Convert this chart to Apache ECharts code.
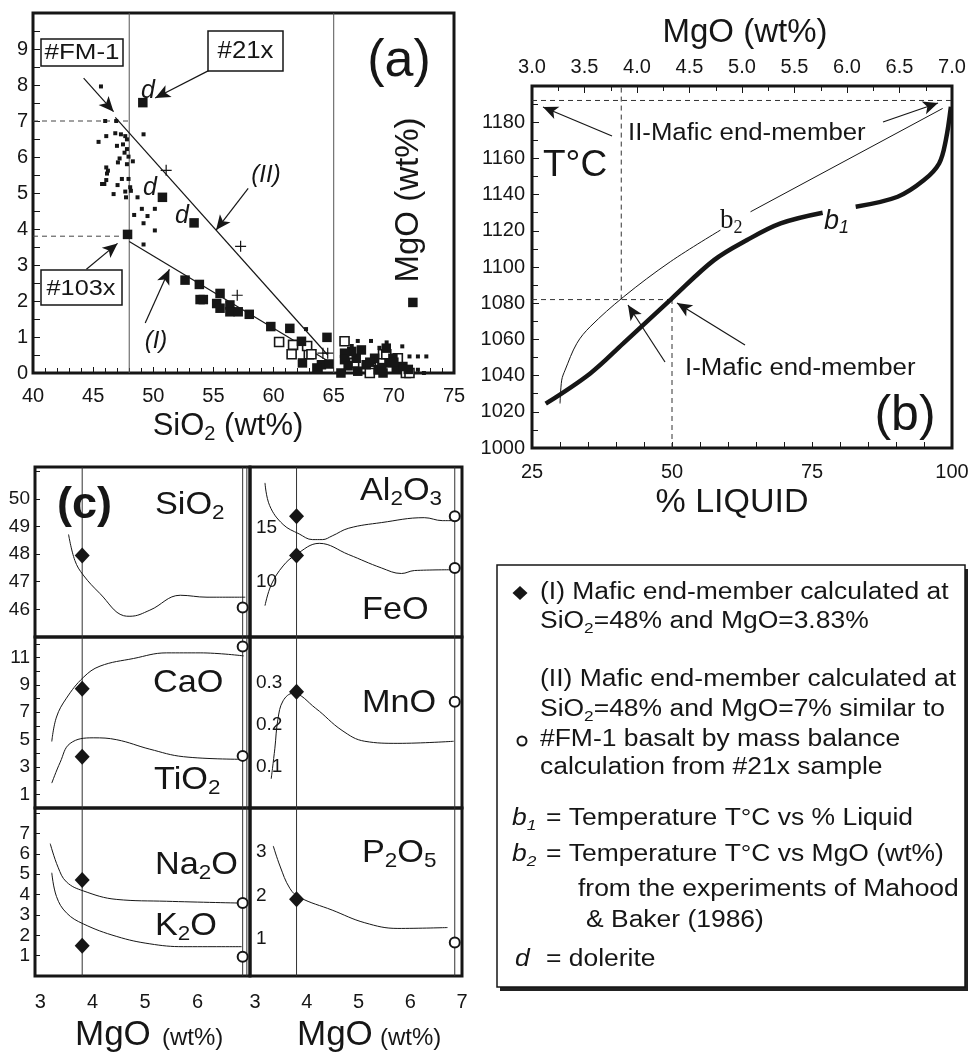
<!DOCTYPE html>
<html><head><meta charset="utf-8">
<script src="https://cdn.jsdelivr.net/npm/echarts@6/dist/echarts.min.js"></script>
<style>html,body{margin:0;padding:0;background:#fff}#c{width:974px;height:1052px}</style>
</head><body><div id="c"></div>
<script>
const FONT = '"Liberation Sans", Arial, Helvetica, sans-serif';
const SERIF = '"Liberation Serif", "Times New Roman", serif';
const INK = '#161616';

// ---------------- Panel (a): MgO vs SiO2 ----------------
const aXTicks = [40, 45, 50, 55, 60, 65, 70, 75];
const aYTicks = [0, 1, 2, 3, 4, 5, 6, 7, 8, 9];
const aSmallDots = [[45.65,7.96],[46.0,7.0],[46.92,7.0],[46.09,6.58],[45.45,6.42],[46.84,6.66],[47.31,6.63],[47.67,6.58],[47.81,6.49],[46.98,6.31],[47.48,6.35],[47.81,6.22],[47.61,6.12],[47.2,5.96],[47.94,6.01],[48.3,5.88],[47.06,5.85],[47.81,5.8],[46.09,5.71],[46.23,5.62],[46.15,5.54],[47.39,5.39],[47.94,5.39],[46.09,5.36],[45.93,5.25],[45.74,5.25],[47.03,5.22],[48.08,5.16],[48.14,5.06],[46.7,4.97],[47.67,5.04],[47.73,4.88],[48.69,4.88],[49.05,4.56],[48.41,4.39],[49.52,4.36],[50.13,4.56],[49.19,4.16],[50.13,3.96],[49.19,6.63],[49.19,3.57],[62.7,1.22],[67.0,0.89],[68.1,0.89],[70.7,0.74],[71.3,0.46],[72.0,0.46],[72.7,0.46],[72.5,0.0],[72.0,0.09],[69.4,0.85],[66.5,0.75],[68.8,0.7]];
const aBigSquares = [[49.13,7.51],[50.76,4.88],[53.39,4.17],[47.86,3.85],[52.64,2.58],[53.83,2.46],[53.89,2.04],[54.16,2.04],[55.55,2.21],[55.27,1.93],[55.55,1.8],[56.37,1.89],[56.37,1.7],[57.06,1.7],[57.98,1.63],[59.77,1.29],[61.35,1.24],[62.32,0.88],[62.4,0.28],[63.7,0.12],[64.44,0.99],[63.98,0.23],[64.6,0.25],[65.6,0.0],[65.9,0.55],[65.9,0.37],[66.87,0.41],[67.3,0.64],[67.7,0.23],[68.4,0.41],[68.7,0.09],[69.37,0.69],[69.59,0.28],[69.92,0.41],[70.2,0.14],[70.75,0.18],[69.1,0.0],[63.6,0.14],[66.2,0.2],[67.0,0.05],[68.0,0.3],[69.0,0.15],[70.0,0.3],[66.5,0.6],[71.2,0.1],[71.58,1.96]];
const aOpenSquares = [[60.46,0.86],[61.62,0.78],[61.5,0.52],[62.93,0.52],[62.79,0.75],[63.15,0.52],[65.9,0.88],[66.7,0.28],[68.1,0.14],[69.1,0.52],[70.33,0.41],[71.0,0.0],[68.0,0.0],[71.3,0.0],[69.37,0.52]];
const aPlus = [[51.07,5.63],[57.26,3.52],[56.98,2.16],[64.5,0.55],[64.1,0.55]];
const aTrendI = [[48.0,3.65],[64.8,0.28]];
const aTrendII = [[46.84,7.1],[64.5,0.5]];
const aVertLines = [48, 65];
const aGuideMgO = [7.0, 3.8];
const aArrows = [
  [[44.21,8.19],[46.70,7.26]],
  [[54.72,8.42],[50.16,7.64]],
  [[57.89,5.13],[55.22,3.97]],
  [[44.44,2.88],[47.03,3.60]],
  [[49.33,1.39],[51.34,2.88]]
];

// ---------------- Panel (b): T vs % liquid / MgO ----------------
const bLiqTicks = [25, 50, 75, 100];
const bMgoTicks = [3.0, 3.5, 4.0, 4.5, 5.0, 5.5, 6.0, 6.5, 7.0];
const bTempTicks = [1000,1020,1040,1060,1080,1100,1120,1140,1160,1180];
const b1Low = [[27.45,1024.5],[35.4,1041.2],[41.3,1057.8],[50.0,1082.7],[57.5,1103.8],[63.4,1114.9],[69.4,1124.1],[76.9,1130.0]];
const b1High = [[82.8,1133.3],[90.3,1138.8],[95.0,1148.0],[97.7,1157.2],[98.9,1170.1],[99.8,1188.5]];
const b2Low = [[3.267,1024.6],[3.283,1037.5],[3.315,1043.0],[3.427,1057.8],[3.554,1067.0],[3.872,1083.5],[4.317,1102.9],[4.795,1120.4]];
const b2High = [[5.081,1130.5],[6.911,1187.6]];
const bGuideT = [1192, 1082];
const bGuideLiq = 50;
const bGuideMgO = 3.85;
const bArrows = [
  [[39.29,1172.4],[26.96,1188.4]],
  [[87.68,1180.1],[97.5,1190.6]],
  [[48.75,1047.5],[42.14,1079.0]],
  [[63.04,1056.9],[50.89,1080.1]]
];

// ---------------- Panel (c): oxides vs MgO ----------------
const cMgoTicks = [3, 4, 5, 6, 7];
const cSiO2 = [[3.54,48.71],[3.66,47.77],[3.82,47.24],[4.14,46.57],[4.59,45.77],[4.71,45.75],[5.09,45.97],[5.67,46.51],[6.18,46.44],[6.91,46.44]];
const cAl2O3 = [[3.19,19.05],[3.28,16.98],[3.54,15.26],[3.85,14.4],[4.11,13.88],[4.30,13.88],[4.49,14.22],[4.81,14.92],[5.44,15.43],[6.27,15.88],[6.62,15.61],[6.81,15.61]];
const cFeO = [[3.19,7.86],[3.31,9.75],[3.54,11.48],[3.79,12.51],[4.24,13.54],[4.81,12.51],[5.44,11.3],[5.83,10.79],[6.08,11.06],[6.81,11.13]];
const cCaO = [[3.22,4.86],[3.31,6.65],[3.50,8.03],[3.82,9.54],[4.14,10.37],[4.78,10.93],[5.41,11.34],[6.05,11.34],[6.88,11.12]];
const cTiO2 = [[3.22,1.82],[3.38,3.34],[3.57,4.72],[4.01,5.13],[4.46,4.99],[5.09,4.3],[5.73,3.75],[6.88,3.56]];
const cMnO = [[3.31,0.07],[3.38,0.142],[3.44,0.213],[3.54,0.257],[3.73,0.275],[4.17,0.239],[4.68,0.186],[5.12,0.16],[5.76,0.155],[6.84,0.16]];
const cNa2O = [[3.19,6.5],[3.34,5.34],[3.50,4.62],[3.82,4.18],[4.46,3.76],[5.41,3.67],[6.84,3.58]];
const cK2O = [[3.22,5.07],[3.31,3.9],[3.50,3.1],[3.82,2.56],[4.46,1.94],[5.09,1.58],[5.73,1.44],[6.84,1.44]];
const cP2O5 = [[3.35,3.13],[3.48,2.67],[3.67,2.16],[3.86,1.95],[4.49,1.66],[5.12,1.37],[5.76,1.24],[6.72,1.26]];
const cMgoI = 3.8;          // mafic end-member (I)
const cMgoII = 6.86;        // mafic end-member (II)
const cEndI = {SiO2:47.95, Al2O3:16.02, FeO:12.44, CaO:8.72, TiO2:3.75, MnO:0.279, Na2O:4.71, K2O:1.48, P2O5:1.91};
const cEndII = {SiO2:46.07, Al2O3:16.02, FeO:11.3, CaO:11.81, TiO2:3.81, MnO:0.255, Na2O:3.58, K2O:0.95, P2O5:0.92};
const cVertLeftExtra = 6.94;

// ---------------- helpers ----------------
function richText(str, size, o) {
  o = o || {};
  const fam = o.family || FONT;
  const fs = o.italic ? 'italic' : 'normal';
  const fw = o.bold ? 'bold' : 'normal';
  let out = '';
  const re = /_\{([^}]*)\}|_(.)/g;
  let last = 0, m;
  while ((m = re.exec(str))) {
    if (m.index > last) out += '{n|' + str.slice(last, m.index) + '}';
    out += '{s|' + (m[1] !== undefined ? m[1] : m[2]) + '}';
    last = re.lastIndex;
  }
  if (last < str.length) out += '{n|' + str.slice(last) + '}';
  return {text: out, rich: {
    n: {fontSize: size, lineHeight: Math.round(size * 1.2), fontFamily: fam, fontStyle: fs, fontWeight: fw, fill: INK},
    s: {fontSize: Math.round(size * 0.66), lineHeight: Math.round(size * 0.42), verticalAlign: 'bottom', fontFamily: fam, fontStyle: fs, fontWeight: fw, fill: INK}
  }};
}
function txt(x, y, str, size, o) {
  o = o || {};
  const r = richText(str, size, o);
  return {type: 'text', x: x, y: y, rotation: o.rot || 0, scaleX: o.sx || 1, z: 100, silent: true,
    style: {text: r.text, rich: r.rich, align: o.align || 'left', verticalAlign: 'middle', fill: INK}};
}
function box(x, y, w, h) {
  return {type: 'rect', z: 90, silent: true, shape: {x: x, y: y, width: w, height: h},
    style: {fill: '#fff', stroke: INK, lineWidth: 1.5}};
}
function lineS(data, xi, yi, o) {
  o = o || {};
  const s = {type: 'line', xAxisIndex: xi, yAxisIndex: yi, data: data, symbol: 'none', silent: true,
    smooth: o.smooth || false, z: o.z || 3,
    lineStyle: {color: o.color || INK, width: o.width || 1, opacity: 1, type: o.dash ? [5, 4] : 'solid'}};
  if (o.arrows) {
    s.markLine = {silent: true, symbol: ['none', 'arrow'], symbolSize: [10, 15], label: {show: false},
      lineStyle: {color: INK, width: 1.2, opacity: 1, type: 'solid'}, animation: false,
      data: o.arrows.map(a => [{coord: a[0]}, {coord: a[1]}])};
  }
  return s;
}
function scatS(data, xi, yi, symbol, size, style, z) {
  return {type: 'scatter', xAxisIndex: xi, yAxisIndex: yi, data: data, symbol: symbol, symbolSize: size,
    silent: true, itemStyle: Object.assign({opacity: 1}, style), z: z || 5};
}
function showOnly(list, digits) {
  return function (v) {
    for (const t of list) if (Math.abs(v - t) < 1e-6) return digits ? t.toFixed(digits) : String(t);
    return '';
  };
}
function axis(o) {
  const a = {type: 'value', splitLine: {show: false}, axisLine: {show: false},
    axisTick: {show: false}, minorTick: {show: false},
    axisLabel: {color: INK, fontFamily: FONT, fontSize: 19, margin: 8}};
  for (const k in o) {
    if (o[k] && typeof o[k] === 'object' && !Array.isArray(o[k]) && a[k]) Object.assign(a[k], o[k]);
    else a[k] = o[k];
  }
  return a;
}

// ---------------- grids ----------------
const gridBase = {show: true, borderColor: INK, borderWidth: 3, containLabel: false};
const grids = [
  {left: 33, top: 13, width: 421, height: 360},   // a
  {left: 532, top: 86, width: 420, height: 362},  // b
  {left: 35, top: 467, width: 215, height: 170},  // c SiO2
  {left: 250, top: 467, width: 212, height: 170}, // c Al2O3/FeO
  {left: 35, top: 637, width: 215, height: 171},  // c CaO/TiO2
  {left: 250, top: 637, width: 212, height: 171}, // c MnO
  {left: 35, top: 808, width: 215, height: 168},  // c Na2O/K2O
  {left: 250, top: 808, width: 212, height: 168}  // c P2O5
].map(g => Object.assign({}, gridBase, g));

const tickIn = (len) => ({show: true, inside: true, length: len, lineStyle: {color: INK, width: 1}});
const xAxes = [
  axis({gridIndex: 0, min: 40, max: 75, interval: 5, axisTick: tickIn(6),
        minorTick: {show: true, splitNumber: 5, length: 5, lineStyle: {color: INK, width: 1}},
        axisLabel: {fontSize: 20, margin: 13, formatter: showOnly(aXTicks)}}),
  axis({gridIndex: 1, min: 25, max: 100, interval: 25, position: 'bottom', axisTick: tickIn(6),
        minorTick: {show: true, splitNumber: 5, length: 6, lineStyle: {color: INK, width: 1}},
        axisLabel: {fontSize: 20, margin: 14, formatter: showOnly(bLiqTicks)}}),
  axis({gridIndex: 1, min: 3, max: 7, interval: 0.5, position: 'top', axisTick: tickIn(7),
        minorTick: {show: true, splitNumber: 2, length: 5, lineStyle: {color: INK, width: 1}},
        axisLabel: {fontSize: 20, margin: 9, formatter: showOnly(bMgoTicks, 1)}})
];
for (let g = 2; g <= 7; g++) {
  const bottom = g >= 6;
  const left = g % 2 === 0;
  xAxes.push(axis({gridIndex: g, min: 2.9, max: 7.0, interval: 0.1,
    axisLabel: {show: bottom, fontSize: 20, margin: 16,
      formatter: showOnly(left ? cMgoTicks.filter(t => t < 7) : cMgoTicks)}}));
}
const yAxes = [
  axis({gridIndex: 0, min: 0, max: 10, interval: 1, axisTick: tickIn(7),
        minorTick: {show: true, splitNumber: 2, length: 7, lineStyle: {color: INK, width: 1}},
        axisLabel: {fontSize: 20, margin: 5, formatter: showOnly(aYTicks)}}),
  axis({gridIndex: 1, min: 1000, max: 1200, interval: 20, axisTick: tickIn(7),
        minorTick: {show: true, splitNumber: 2, length: 6, lineStyle: {color: INK, width: 1}},
        axisLabel: {fontSize: 20, margin: 7, formatter: showOnly(bTempTicks)}}),
  axis({gridIndex: 2, min: 45, max: 51.15, interval: 1, axisTick: tickIn(5), axisLabel: {fontSize: 19, margin: 5, formatter: showOnly([46,47,48,49,50])}}),
  axis({gridIndex: 3, min: 5, max: 20.5, interval: 5, axisLabel: {fontSize: 19, inside: true, margin: 6, formatter: showOnly([10,15])}}),
  axis({gridIndex: 4, min: 0, max: 12.5, interval: 1, axisTick: tickIn(5), axisLabel: {fontSize: 19, margin: 5, formatter: showOnly([1,3,5,7,9,11])}}),
  axis({gridIndex: 5, min: 0, max: 0.41, interval: 0.1, axisLabel: {fontSize: 19, inside: true, margin: 6, formatter: showOnly([0.1,0.2,0.3], 1)}}),
  axis({gridIndex: 6, min: 0, max: 8.25, interval: 1, axisTick: tickIn(5), axisLabel: {fontSize: 19, margin: 5, formatter: showOnly([1,2,3,4,5,6,7])}}),
  axis({gridIndex: 7, min: 0.15, max: 4.0, interval: 0.05, axisLabel: {fontSize: 19, inside: true, margin: 6, formatter: showOnly([1,2,3])}})
];

// ---------------- series ----------------
const series = [];
// panel a
aVertLines.forEach(v => series.push(lineS([[v, 0], [v, 10]], 0, 0, {color: '#555', width: 1})));
aGuideMgO.forEach(g => series.push(lineS([[40, g], [48, g]], 0, 0, {color: '#444', dash: true})));
series.push(lineS(aTrendII, 0, 0, {width: 1.2}));
series.push(lineS(aTrendI, 0, 0, {width: 1.2, arrows: aArrows}));
series.push(scatS(aOpenSquares, 0, 0, 'rect', 9, {color: '#fff', borderColor: INK, borderWidth: 1.6}, 4));
series.push(scatS(aBigSquares, 0, 0, 'rect', 9.5, {color: INK}, 5));
series.push(scatS(aSmallDots, 0, 0, 'rect', 4, {color: INK}, 6));
series.push(scatS(aPlus, 0, 0, 'path://M4.45,0H5.55V10H4.45ZM0,4.45H10V5.55H0Z', 11, {color: INK}, 6));

// panel b
series.push(lineS([[25, bGuideT[0]], [100, bGuideT[0]]], 1, 1, {color: '#333', dash: true}));
series.push(lineS([[25, bGuideT[1]], [bGuideLiq, bGuideT[1]]], 1, 1, {color: '#333', dash: true}));
series.push(lineS([[bGuideLiq, 1000], [bGuideLiq, bGuideT[1]]], 1, 1, {color: '#333', dash: true}));
series.push(lineS([[bGuideMgO, bGuideT[1]], [bGuideMgO, 1200]], 2, 1, {color: '#333', dash: true}));
series.push(lineS(b1Low, 1, 1, {width: 4.5, smooth: 0.35, arrows: bArrows}));
series.push(lineS(b1High, 1, 1, {width: 4.5, smooth: 0.35}));
series.push(lineS(b2Low, 2, 1, {width: 1, smooth: 0.35}));
series.push(lineS(b2High, 2, 1, {width: 1}));

// panel c
const cPanels = [
  {g: 2, curves: [cSiO2], keys: ['SiO2']},
  {g: 3, curves: [cAl2O3, cFeO], keys: ['Al2O3', 'FeO']},
  {g: 4, curves: [cCaO, cTiO2], keys: ['CaO', 'TiO2']},
  {g: 5, curves: [cMnO], keys: ['MnO']},
  {g: 6, curves: [cNa2O, cK2O], keys: ['Na2O', 'K2O']},
  {g: 7, curves: [cP2O5], keys: ['P2O5']}
];
cPanels.forEach(p => {
  const ax = yAxes[p.g];
  const xi = p.g + 1, yi = p.g;
  const verts = [cMgoI, cMgoII];
  if (p.g % 2 === 0) verts.push(cVertLeftExtra);
  verts.forEach(v => series.push(lineS([[v, ax.min], [v, ax.max]], xi, yi, {color: '#333', width: 1})));
  p.curves.forEach(c => series.push(lineS(c, xi, yi, {width: 1, smooth: 0.4})));
  series.push(scatS(p.keys.map(k => [cMgoI, cEndI[k]]), xi, yi, 'diamond', [15, 16], {color: INK}, 7));
  series.push(scatS(p.keys.map(k => [cMgoII, cEndII[k]]), xi, yi, 'circle', 10, {color: '#fff', borderColor: INK, borderWidth: 2}, 7));
});

// ---------------- graphic (annotations) ----------------
const G = [];
// panel a
G.push(box(41, 39, 82, 27), box(208, 31, 75, 40), box(41, 270, 81, 35));
G.push(txt(82, 53, '#FM-1', 22, {align: 'center', sx: 1.18}));
G.push(txt(245.5, 51.5, '#21x', 23, {align: 'center', sx: 1.12}));
G.push(txt(81, 289, '#103x', 22, {align: 'center', sx: 1.15}));
G.push(txt(399, 62, '(a)', 52, {align: 'center'}));
G.push(txt(409, 200, 'MgO (wt%)', 33, {align: 'center', rot: Math.PI / 2}));
G.push(txt(228, 426, 'SiO_2 (wt%)', 31, {align: 'center'}));
G.push(txt(266, 175, '(II)', 24, {align: 'center', italic: true}));
G.push(txt(156, 341, '(I)', 24, {align: 'center', italic: true}));
G.push(txt(148, 91, 'd', 25, {align: 'center', italic: true}));
G.push(txt(150, 188, 'd', 25, {align: 'center', italic: true}));
G.push(txt(182, 216, 'd', 25, {align: 'center', italic: true}));
// panel b
G.push(txt(745, 33, 'MgO (wt%)', 33, {align: 'center'}));
G.push(txt(732, 503, '% LIQUID', 34, {align: 'center'}));
G.push(txt(543, 166, 'T°C', 37));
G.push(txt(628, 134, 'II-Mafic end-member', 23, {sx: 1.12}));
G.push(txt(685, 369, 'I-Mafic end-member', 23, {sx: 1.12}));
G.push(txt(905, 416, '(b)', 50, {align: 'center'}));
G.push(txt(720, 221, 'b_2', 27, {family: SERIF}));
G.push(txt(824, 221, 'b_1', 27, {italic: true}));
// panel c
G.push(txt(57, 506, '(c)', 45, {bold: true}));
const cLab = 32, cSx = 1.07;
G.push(txt(155, 505, 'SiO_2', cLab, {sx: cSx}));
G.push(txt(360, 491, 'Al_2O_3', cLab, {sx: cSx}));
G.push(txt(362, 610, 'FeO', cLab, {sx: cSx}));
G.push(txt(153, 683, 'CaO', cLab, {sx: cSx}));
G.push(txt(154, 780, 'TiO_2', cLab, {sx: cSx}));
G.push(txt(362, 703, 'MnO', cLab, {sx: cSx}));
G.push(txt(155, 865, 'Na_2O', cLab, {sx: cSx}));
G.push(txt(155, 926, 'K_2O', cLab, {sx: cSx}));
G.push(txt(362, 853, 'P_2O_5', cLab, {sx: cSx}));
G.push(txt(75, 1035, 'MgO', 35));
G.push(txt(162, 1038, '(wt%)', 24));
G.push(txt(297, 1035, 'MgO', 35));
G.push(txt(380, 1038, '(wt%)', 24));
// legend box
G.push({type: 'rect', z: 80, silent: true, shape: {x: 500, y: 569, width: 468, height: 422}, style: {fill: '#222'}});
G.push({type: 'rect', z: 85, silent: true, shape: {x: 497, y: 565, width: 468, height: 422}, style: {fill: '#fff', stroke: INK, lineWidth: 1.5}});
G.push({type: 'polygon', z: 100, silent: true, shape: {points: [[520, 586], [527.5, 593], [520, 600], [512.5, 593]]}, style: {fill: INK}});
G.push({type: 'circle', z: 100, silent: true, shape: {cx: 522, cy: 741, r: 4.5}, style: {fill: '#fff', stroke: INK, lineWidth: 2}});
const LS = 23, LSX = 1.15;
G.push(txt(540, 593, '(I) Mafic end-member calculated at', LS, {sx: LSX}));
G.push(txt(540, 622, 'SiO_2=48% and MgO=3.83%', LS, {sx: LSX}));
G.push(txt(540, 680, '(II) Mafic end-member calculated at', LS, {sx: LSX}));
G.push(txt(540, 710, 'SiO_2=48% and MgO=7% similar to', LS, {sx: LSX}));
G.push(txt(540, 740, '#FM-1 basalt by mass balance', LS, {sx: LSX}));
G.push(txt(540, 768, 'calculation from #21x sample', LS, {sx: LSX}));
G.push(txt(512, 819, 'b_1', LS, {sx: LSX, italic: true}));
G.push(txt(546, 819, '= Temperature T°C vs % Liquid', LS, {sx: LSX}));
G.push(txt(512, 855, 'b_2', LS, {sx: LSX, italic: true}));
G.push(txt(546, 855, '= Temperature T°C vs MgO (wt%)', LS, {sx: LSX}));
G.push(txt(578, 890, 'from the experiments of Mahood', LS, {sx: LSX}));
G.push(txt(586, 921, '& Baker (1986)', LS, {sx: LSX}));
G.push(txt(515, 960, 'd', LS, {sx: LSX, italic: true}));
G.push(txt(546, 960, '= dolerite', LS, {sx: LSX}));

const chart = echarts.init(document.getElementById('c'), null, {renderer: 'canvas'});
chart.setOption({
  animation: false,
  backgroundColor: '#fff',
  grid: grids,
  xAxis: xAxes,
  yAxis: yAxes,
  series: series,
  graphic: {elements: G}
});
</script>
</body></html>
